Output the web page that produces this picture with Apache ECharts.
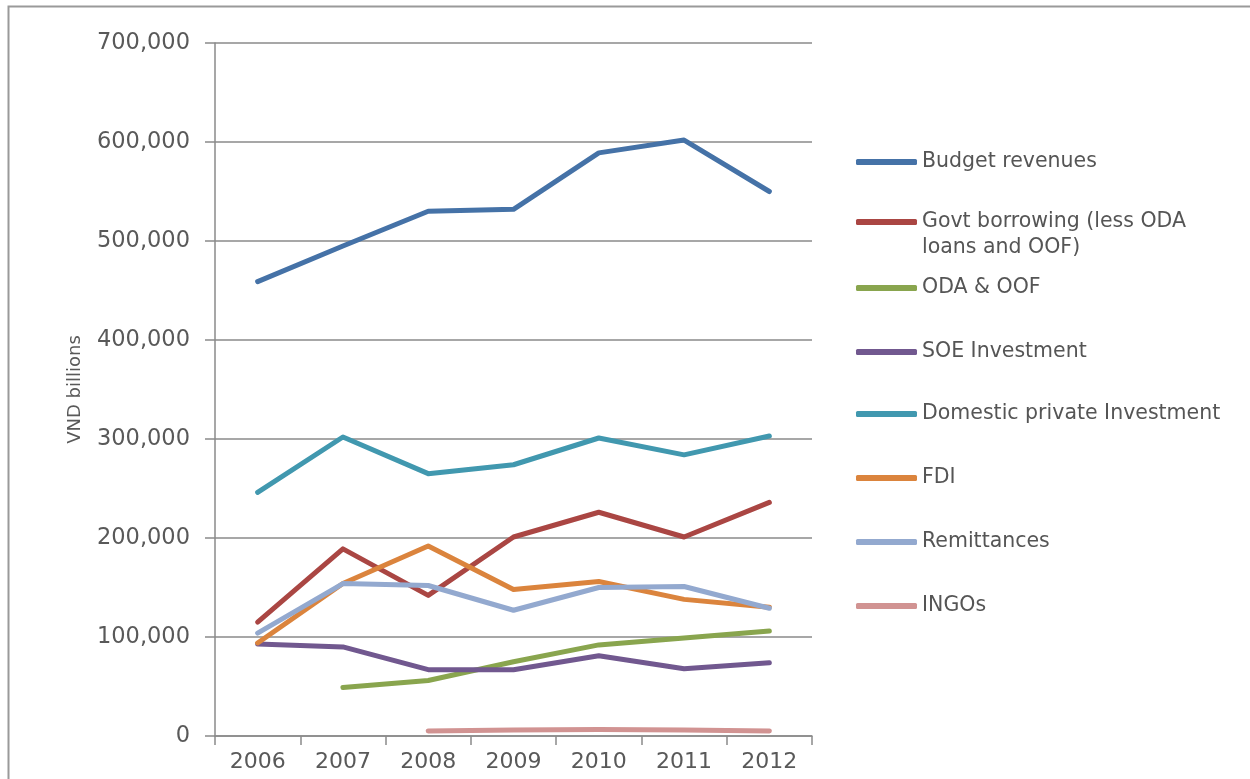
<!DOCTYPE html>
<html>
<head>
<meta charset="utf-8">
<script src="https://cdn.jsdelivr.net/npm/echarts@6/dist/echarts.min.js"></script>
<style>
html,body{margin:0;padding:0;background:#fff;}
#chart{width:1250px;height:779px;}
</style>
</head>
<body>
<div id="chart"></div>
<script>
var years = ['2006','2007','2008','2009','2010','2011','2012'];
var seriesNames = ['Budget revenues','Govt borrowing (less ODA loans and OOF)','ODA & OOF','SOE Investment','Domestic private Investment','FDI','Remittances','INGOs'];
var budget   = [459000, 495000, 530000, 532000, 589000, 602000, 550000];
var govt     = [115000, 189000, 142000, 201000, 226000, 201000, 236000];
var oda      = [null, 49000, 56000, 75000, 92000, 99000, 106000];
var soe      = [93000, 90000, 67000, 67000, 81000, 68000, 74000];
var domestic = [246000, 302000, 265000, 274000, 301000, 284000, 303000];
var fdi      = [94000, 154000, 192000, 148000, 156000, 138000, 130000];
var remit    = [104000, 154000, 152000, 127000, 150000, 151000, 129000];
var ingos    = [null, null, 5000, 6000, 6500, 6000, 5000];
var yTicks   = [0, 100000, 200000, 300000, 400000, 500000, 600000, 700000];
var yAxisTitle = 'VND billions';

var values = [budget, govt, oda, soe, domestic, fdi, remit, ingos];
var colors = ['#4572A7','#AA4643','#89A54E','#71588F','#4198AF','#DB843D','#93A9CF','#D19392'];
var legendCenters = [160, 222, 286, 350, 412, 476, 540, 604];
var FONT = 'DejaVu Sans';

var series = seriesNames.map(function(n, i){
  return {
    name: n, type: 'line', data: values[i], showSymbol: false, symbol: 'none',
    color: colors[i], connectNulls: false, animation: false,
    lineStyle: {width: 5, color: colors[i], cap: 'round', join: 'round'}
  };
});

var legends = seriesNames.map(function(n, i){
  var isGovt = (i === 1);
  return {
    left: 856,
    top: isGovt ? legendCenters[i] - 39 : legendCenters[i] - 11,
    orient: 'vertical',
    data: [n],
    icon: 'roundRect',
    itemWidth: 61, itemHeight: 6,
    selectedMode: false,
    padding: 0,
    formatter: function(name){
      if (name === seriesNames[1]) return '\nGovt borrowing (less ODA\nloans and OOF)';
      return name;
    },
    textStyle: {fontFamily: FONT, fontSize: 20.5, color: '#555', lineHeight: 26}
  };
});

var chart = echarts.init(document.getElementById('chart'), null, {renderer: 'canvas'});
chart.setOption({
  backgroundColor: '#fff',
  animation: false,
  graphic: [{
    type: 'rect', left: 6, top: 4, z: 100,
    shape: {width: 1300, height: 800},
    style: {fill: 'none', stroke: '#9a9a9a', lineWidth: 2}
  }],
  legend: legends,
  grid: {left: 215, right: 438, top: 43, bottom: 43, containLabel: false},
  xAxis: {
    type: 'category', data: years, boundaryGap: true,
    axisLine: {lineStyle: {color: '#8a8a8a', width: 1.5}},
    axisTick: {show: true, length: 9, alignWithLabel: false, lineStyle: {color: '#8a8a8a', width: 1.5}},
    axisLabel: {fontFamily: FONT, fontSize: 22, color: '#595959', margin: 15},
    splitLine: {show: false}
  },
  yAxis: {
    type: 'value', min: yTicks[0], max: yTicks[yTicks.length-1], interval: yTicks[1]-yTicks[0],
    name: yAxisTitle, nameLocation: 'middle', nameGap: 131, nameRotate: 90,
    nameTextStyle: {fontFamily: FONT, fontSize: 18, color: '#595959'},
    axisLine: {show: true, lineStyle: {color: '#8a8a8a', width: 1.5}},
    axisTick: {show: true, inside: false, length: 10, lineStyle: {color: '#8a8a8a', width: 1.5}},
    axisLabel: {fontFamily: FONT, fontSize: 22.5, color: '#595959', margin: 25,
      formatter: function(v){ return v.toLocaleString('en-US'); }},
    splitLine: {show: true, lineStyle: {color: '#8a8a8a', width: 1.5}}
  },
  series: series
});
</script>
</body>
</html>
